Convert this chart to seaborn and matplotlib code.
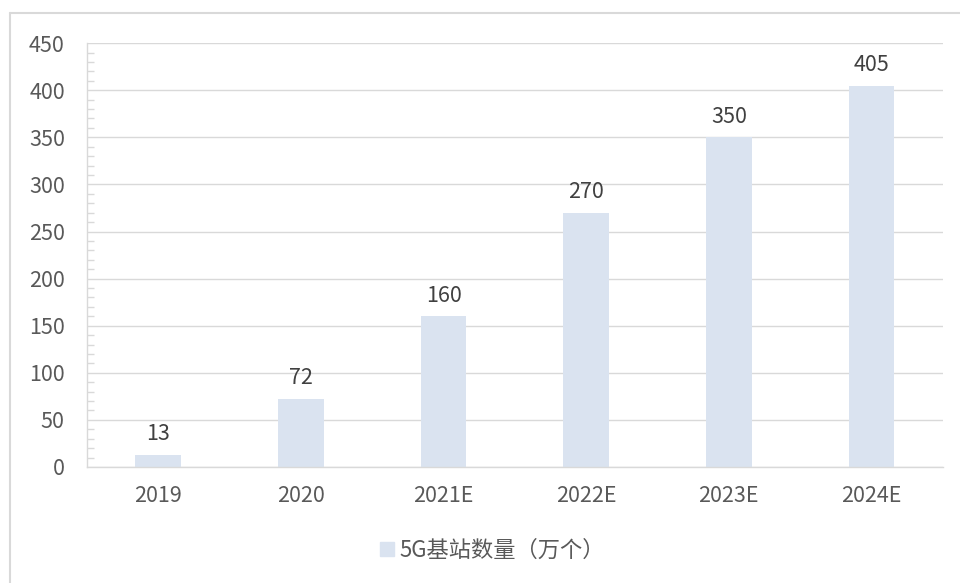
import matplotlib
matplotlib.use("Agg")
import matplotlib.pyplot as plt
import seaborn as sns
import pandas as pd
from matplotlib.ticker import MultipleLocator
from matplotlib.lines import Line2D

# === DATA ===
years = ["2019", "2020", "2021E", "2022E", "2023E", "2024E"]
stations = [13, 72, 160, 270, 350, 405]
legend_label = "5G基站数量（万个）"

BAR_COLOR = "#DAE3F0"
TEXT_COLOR = "#595959"
GRID_COLOR = "#D9D9D9"

sns.set_theme(style="white")
plt.rcParams["font.family"] = ["Noto Sans CJK SC", "DejaVu Sans"]

df = pd.DataFrame({"year": years, "value": stations})

fig = plt.figure(figsize=(9.6, 5.83), dpi=100)
ax = fig.add_axes([0.0906, 0.199, 0.8914, 0.727])

sns.barplot(data=df, x="year", y="value", color=BAR_COLOR, width=0.32,
            saturation=1, linewidth=0, ax=ax)

ax.bar_label(ax.containers[0], labels=[str(v) for v in stations], padding=7,
             fontsize=15.5, color="#404040")

ax.set_xlim(-0.5, 5.5)
ax.set_ylim(0, 450)
ax.yaxis.set_major_locator(MultipleLocator(50))
ax.yaxis.set_minor_locator(MultipleLocator(10))
ax.grid(axis="y", which="major", color=GRID_COLOR, linewidth=1)
ax.set_axisbelow(True)

for s in ["top", "right"]:
    ax.spines[s].set_visible(False)
ax.spines["left"].set_color(GRID_COLOR)
ax.spines["bottom"].set_color(GRID_COLOR)
ax.spines["left"].set_linewidth(1)
ax.spines["bottom"].set_linewidth(1)

ax.tick_params(axis="y", which="major", length=0, labelsize=15.5,
               labelcolor=TEXT_COLOR, pad=16)
ax.tick_params(axis="y", which="minor", direction="in", length=5,
               color=GRID_COLOR, width=1, left=True)
ax.tick_params(axis="x", length=0, labelsize=15.5, labelcolor=TEXT_COLOR, pad=13)
ax.set_xlabel("")
ax.set_ylabel("")

# legend at the bottom
handle = Line2D([], [], marker="s", linestyle="", markersize=10,
                markerfacecolor=BAR_COLOR, markeredgecolor=BAR_COLOR)
fig.legend([handle], [legend_label], loc="center", bbox_to_anchor=(0.511, 0.056),
           frameon=False, fontsize=16, labelcolor=TEXT_COLOR,
           handletextpad=0.05, handlelength=1.0)

# outer frame (top and left edges visible)
fig.add_artist(Line2D([10 / 960, 1], [1 - 13 / 583, 1 - 13 / 583],
                      transform=fig.transFigure, color="#D9D9D9", linewidth=1.5))
fig.add_artist(Line2D([10 / 960, 10 / 960], [0, 1 - 13 / 583],
                      transform=fig.transFigure, color="#D9D9D9", linewidth=1.5))

fig.savefig("out.png", dpi=100)
